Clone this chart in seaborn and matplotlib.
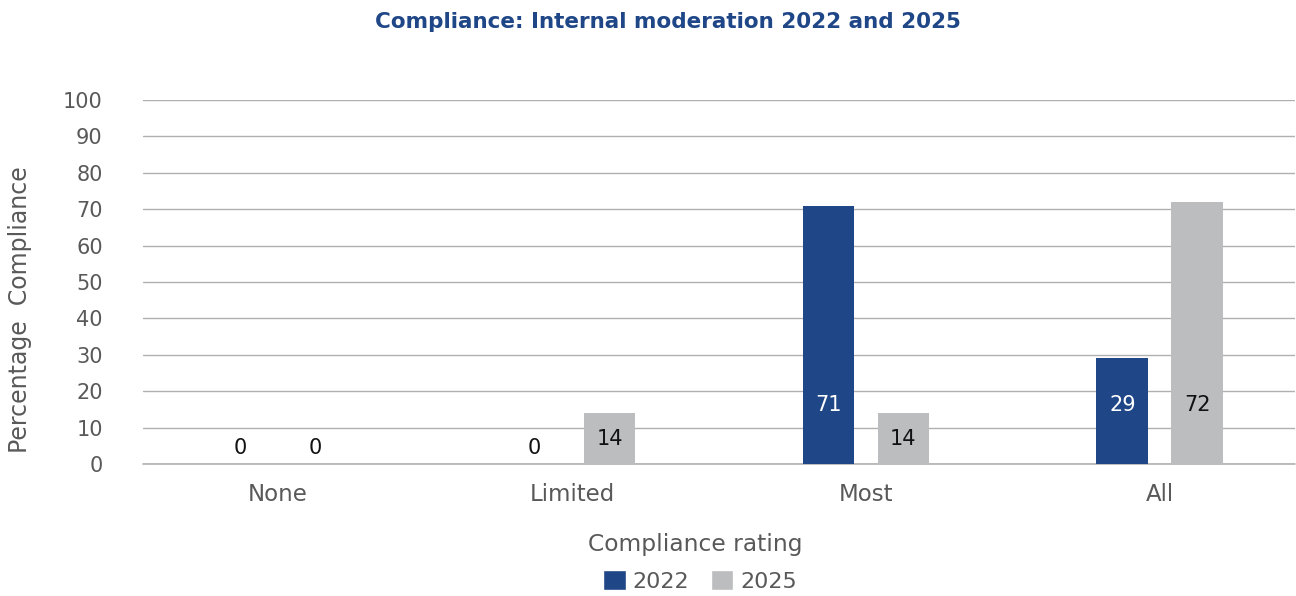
import matplotlib
matplotlib.use("Agg")
import matplotlib.pyplot as plt
from matplotlib.patches import Patch
import seaborn as sns
import pandas as pd

# Chart data
categories = ["None", "Limited", "Most", "All"]
years = ["2022", "2025"]
values_2022 = [0, 0, 71, 29]
values_2025 = [0, 14, 14, 72]
y_ticks = list(range(0, 101, 10))

df = pd.DataFrame({
    "rating": categories * 2,
    "year": [years[0]] * len(categories) + [years[1]] * len(categories),
    "pct": values_2022 + values_2025,
})

BLUE = "#1F4686"
GREY = "#BCBDBF"
TEXT = "#595959"

sns.set_theme(style="white")
plt.rcParams["font.family"] = ["DejaVu Sans"]

fig = plt.figure(figsize=(12.96, 5.96), dpi=100)
ax = fig.add_axes([143 / 1296, 132 / 596, (1295 - 143) / 1296, 364 / 596])

sns.barplot(data=df, x="rating", y="pct", hue="year", order=categories,
            hue_order=years, palette=[BLUE, GREY], width=0.51, gap=0.31,
            saturation=1, legend=False, ax=ax, zorder=3, linewidth=0)

ax.set_ylim(0, 100)
ax.set_xlim(-0.46, 3.46)
ax.set_yticks(y_ticks)
ax.set_yticklabels([str(t) for t in y_ticks])
ax.yaxis.grid(True, color="#B0B0B0", linewidth=1.0, zorder=0)
ax.axhline(0, color="#B0B0B0", linewidth=1.2, zorder=2, clip_on=False)
ax.xaxis.grid(False)
for s in ax.spines.values():
    s.set_visible(False)
ax.tick_params(axis="both", length=0, colors=TEXT)
ax.tick_params(axis="y", pad=29, labelsize=15)
ax.tick_params(axis="x", pad=14, labelsize=16.5)
ax.set_xlabel("")
ax.set_ylabel("")

# Value labels near the base of each bar
for container, yr in zip(ax.containers, years):
    for bar, val in zip(container, df[df["year"] == yr]["pct"]):
        cx = bar.get_x() + bar.get_width() / 2
        if val == 0:
            ly = 4.4
        elif val < 25:
            ly = val / 2
        else:
            ly = 16.2
        color = "white" if yr == "2022" and val > 0 else "#111111"
        ax.text(cx, ly, f"{val:g}", ha="center", va="center",
                fontsize=15, color=color, zorder=4)

fig.text(668 / 1296, 1 - 22 / 596, "Compliance: Internal moderation 2022 and 2025",
         ha="center", va="center", fontsize=15.5, fontweight="bold", color=BLUE)
fig.text(20 / 1296, 1 - 310 / 596, "Percentage  Compliance", rotation=90,
         ha="center", va="center", fontsize=17, color=TEXT)
fig.text(695 / 1296, 1 - 545 / 596, "Compliance rating",
         ha="center", va="center", fontsize=16.8, color=TEXT)

handles = [Patch(facecolor=BLUE, label="2022"), Patch(facecolor=GREY, label="2025")]
fig.legend(handles=handles, loc="center", bbox_to_anchor=(700 / 1296, 1 - 581 / 596),
           ncol=2, frameon=False, fontsize=16, labelcolor=TEXT,
           handlelength=1.0, handleheight=1.0, handletextpad=0.3, columnspacing=1.0)

fig.savefig("out.png", dpi=100)
